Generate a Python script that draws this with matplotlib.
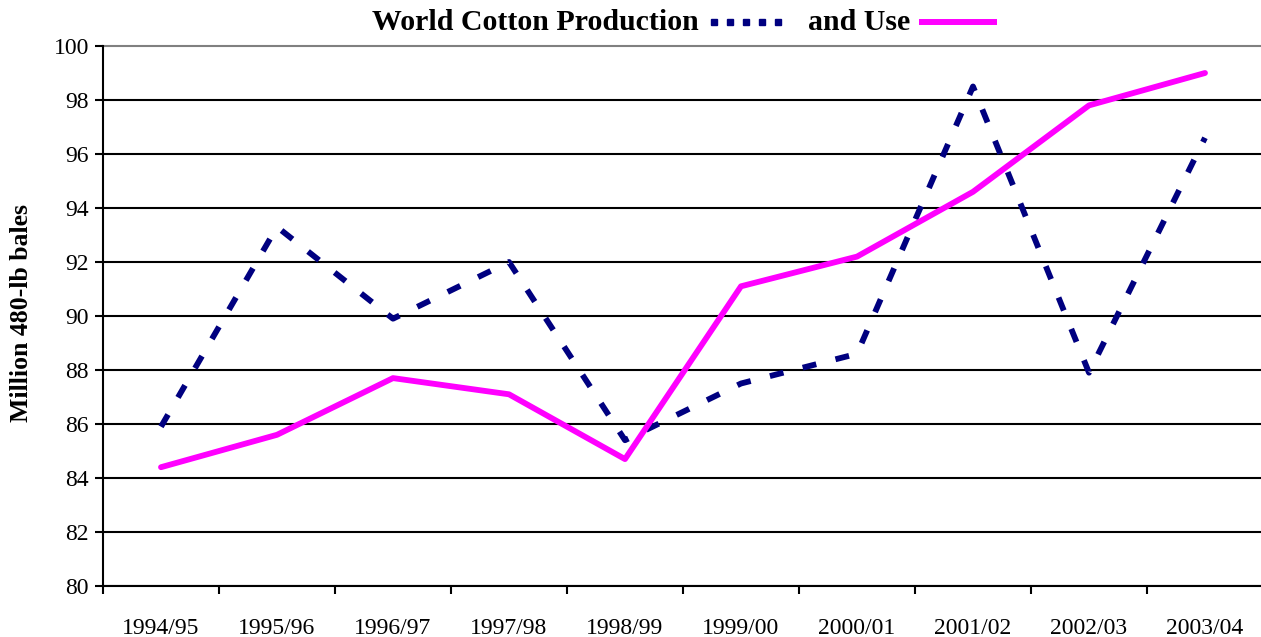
import matplotlib
matplotlib.use("Agg")
import matplotlib.pyplot as plt
from matplotlib.lines import Line2D

categories = ["1994/95", "1995/96", "1996/97", "1997/98", "1998/99",
              "1999/00", "2000/01", "2001/02", "2002/03", "2003/04"]
production = [85.9, 93.3, 89.9, 92.0, 85.4, 87.5, 88.6, 98.5, 87.9, 96.6]
use = [84.4, 85.6, 87.7, 87.1, 84.7, 91.1, 92.2, 94.6, 97.8, 99.0]
yticks = [80, 82, 84, 86, 88, 90, 92, 94, 96, 98, 100]

NAVY = "#000080"
MAGENTA = "#FF00FF"

plt.rcParams['font.family'] = ['Liberation Serif', 'DejaVu Serif']

W, H = 1261, 637
fig = plt.figure(figsize=(W / 100, H / 100), dpi=100)
ax = fig.add_axes([103 / W, (H - 586) / H, 1160 / W, 540 / H])

x = list(range(len(categories)))
ax.plot(x, production, color=NAVY, lw=4.2, dashes=(2.4, 3.4),
        dash_capstyle='butt', solid_joinstyle='miter', zorder=3)
ax.plot(x, use, color=MAGENTA, lw=4.2, solid_capstyle='round', zorder=4)

ax.set_xlim(-0.5, len(categories) - 0.5)
ax.set_ylim(80, 100)
ax.set_yticks(yticks)
ax.set_yticklabels([str(v) for v in yticks], fontsize=17)
ax.set_xticks(x)
ax.set_xticklabels(categories, fontsize=17)
ax.set_xticks([i - 0.5 for i in range(len(categories) + 1)], minor=True)
ax.tick_params(axis='x', which='major', length=0, pad=23)
ax.tick_params(axis='x', which='minor', length=6, width=1.5, direction='out')
ax.tick_params(axis='y', length=6, width=1.5, direction='out', pad=4)

for v in yticks[:-1]:
    ax.axhline(v, color='black', lw=1.5, zorder=1)
ax.axhline(100, color='#808080', lw=1.5, zorder=1, clip_on=False)

for s in ['top', 'right']:
    ax.spines[s].set_visible(False)
ax.spines['left'].set_linewidth(1.5)
ax.spines['bottom'].set_linewidth(1.5)

fig.text(22 / W, 1 - 313 / H, "Million 480-lb bales", fontsize=18.5,
         fontweight='bold', rotation=90, ha='center', va='center')

# Title with inline legend
ty = 1 - 22 / H
fig.text(372 / W, ty, "World Cotton Production", fontsize=21.5, fontweight='bold',
         ha='left', va='center')
sq_x = [714 / W, 730 / W, 746 / W, 762 / W, 778 / W]
fig.add_artist(Line2D(sq_x, [ty] * len(sq_x), transform=fig.transFigure,
                      marker='s', markersize=5, color=NAVY, lw=0))
fig.text(808 / W, ty, "and Use", fontsize=21.5, fontweight='bold',
         ha='left', va='center')
fig.add_artist(Line2D([919 / W, 997 / W], [ty, ty], transform=fig.transFigure,
                      color=MAGENTA, lw=4.3, solid_capstyle='butt'))

fig.savefig("out.png", dpi=100)
